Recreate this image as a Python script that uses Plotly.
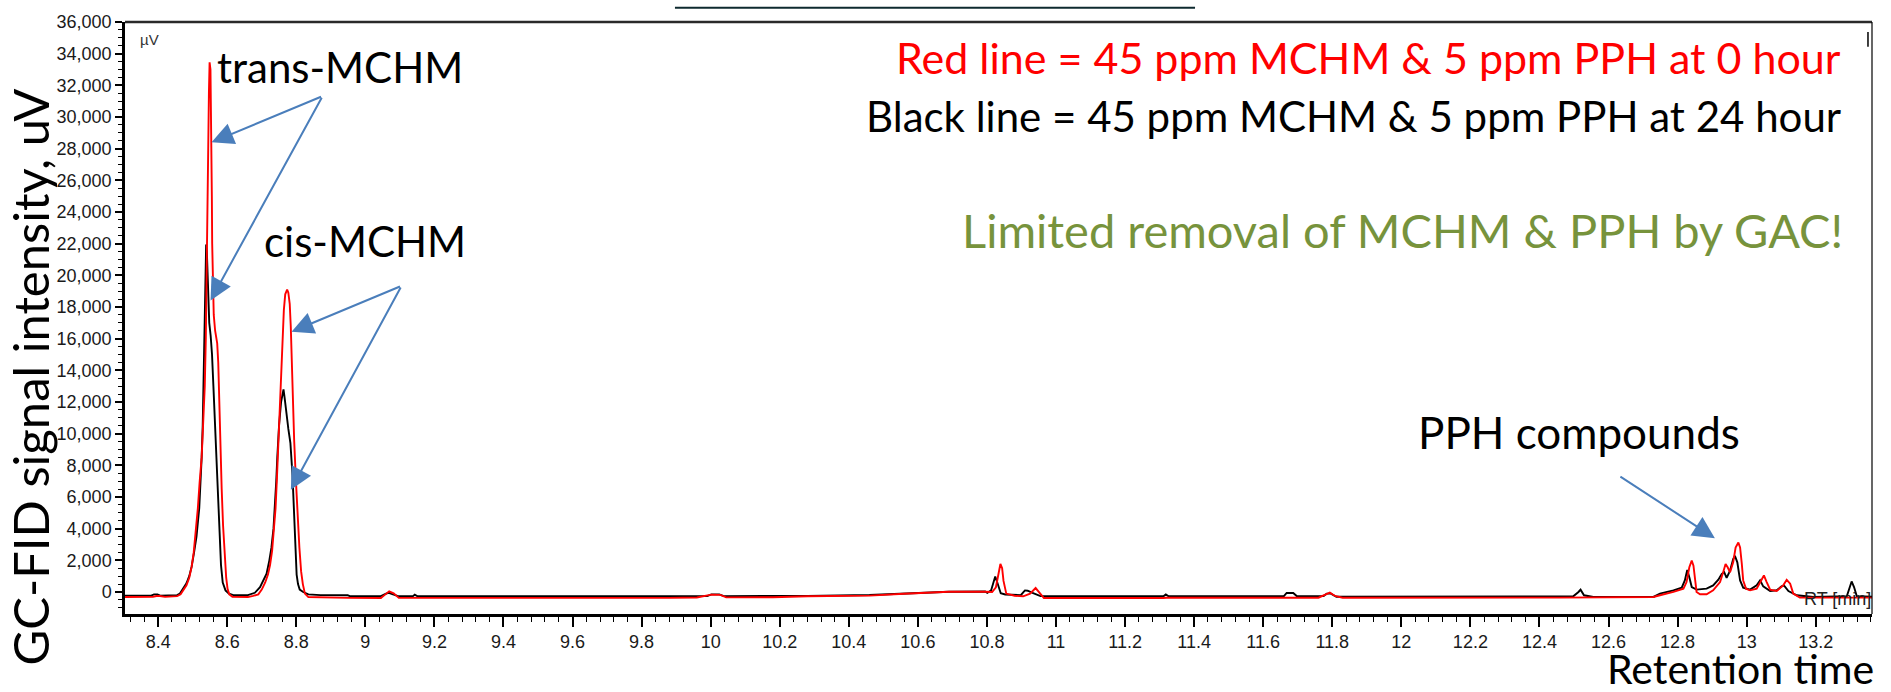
import plotly.graph_objects as go

# GC-FID chromatograms: retention time (min) vs signal (uV)
rt_0h = [8.304, 8.330, 8.360, 8.385, 8.395, 8.405, 8.420, 8.445, 8.455, 8.465, 8.475, 8.482, 8.490, 8.497,
         8.503, 8.509, 8.515, 8.520, 8.526, 8.530, 8.535, 8.538, 8.541, 8.543, 8.545, 8.547, 8.549, 8.5515,
         8.553, 8.5545, 8.5555, 8.5565, 8.558, 8.561, 8.565, 8.571, 8.574, 8.577, 8.580, 8.584, 8.588, 8.593,
         8.597, 8.601, 8.606, 8.615, 8.660, 8.675, 8.690, 8.700, 8.710, 8.718, 8.724, 8.730, 8.735, 8.740,
         8.744, 8.748, 8.752, 8.756, 8.760, 8.764, 8.768, 8.7735, 8.777, 8.781, 8.784, 8.787, 8.790, 8.794,
         8.799, 8.804, 8.809, 8.814, 8.819, 8.825, 8.835, 8.950, 9.045, 9.058, 9.069, 9.082, 9.097, 9.880,
         9.960, 10.002, 10.028, 10.045, 10.180, 10.280, 10.460, 10.560, 10.690, 10.795, 10.815, 10.826,
         10.834, 10.839, 10.844, 10.848, 10.856, 10.880, 10.905, 10.925, 10.941, 10.952, 10.965, 11.310,
         11.320, 11.760, 11.780, 11.793, 11.808, 11.830, 12.459, 12.730, 12.749, 12.788, 12.817, 12.826,
         12.834, 12.841, 12.846, 12.850, 12.855, 12.865, 12.884, 12.903, 12.923, 12.932, 12.939, 12.945,
         12.952, 12.961, 12.968, 12.976, 12.981, 12.986, 12.990, 12.998, 13.010, 13.029, 13.043, 13.050,
         13.058, 13.068, 13.087, 13.106, 13.116, 13.126, 13.135, 13.154, 13.363]
signal_0h = [-320, -320, -310, -300, -250, -250, -310, -300, -260, -150, 150, 420, 900, 1600,
             2500, 3800, 5300, 6900, 8500, 10500, 13000, 16000, 20000, 24000, 28000, 31500, 33450, 33000,
             31000, 28000, 25000, 22000, 19500, 17500, 16500, 15700, 14500, 11500, 9000, 6500, 4200, 2200,
             900, 200, -150, -300, -320, -250, -150, 150, 600, 1100, 1700, 2600, 3800, 5300,
             7200, 9500, 12000, 14300, 16000, 17800, 18800, 19100, 18900, 18200, 16800, 14500, 12000, 9500,
             7000, 4700, 2800, 1300, 500, -100, -320, -370, -380, -150, 40, -80, -370, -370,
             -350, -170, -180, -340, -330, -270, -230, -110, 20, 20, 0, 300,
             1300, 1770, 1500, 700, -100, -240, -270, -100, 250, -50, -380, -380,
             -360, -360, -150, -40, -250, -360, -354, -312, -208, 2, 210, 626,
             1561, 1979, 1667, 730, 2, -144, -144, 106, 626, 1248, 1771, 1561,
             1248, 1875, 2811, 3121, 2811, 1771, 730, 210, 106, 210, 834, 1042,
             626, 148, 64, 418, 772, 522, -104, -354, -354]

rt_24h = [8.304, 8.380, 8.388, 8.398, 8.406, 8.440, 8.455, 8.463, 8.472, 8.482, 8.490, 8.497, 8.504, 8.511,
          8.519, 8.523, 8.526, 8.529, 8.531, 8.533, 8.535, 8.537, 8.539, 8.541, 8.543, 8.545, 8.548, 8.552,
          8.556, 8.560, 8.565, 8.570, 8.574, 8.578, 8.582, 8.587, 8.595, 8.605, 8.620, 8.660, 8.665, 8.680,
          8.695, 8.705, 8.714, 8.722, 8.728, 8.734, 8.738, 8.742, 8.745, 8.750, 8.756, 8.760, 8.763, 8.766,
          8.770, 8.777, 8.783, 8.789, 8.793, 8.796, 8.799, 8.801, 8.805, 8.810, 8.820, 8.835, 8.870, 8.949,
          8.955, 9.045, 9.060, 9.068, 9.080, 9.095, 9.138, 9.143, 9.150, 9.990, 10.002, 10.025, 10.038,
          10.180, 10.280, 10.460, 10.560, 10.690, 10.795, 10.801, 10.812, 10.824, 10.830, 10.840, 10.853,
          10.898, 10.910, 10.918, 10.932, 10.955, 11.312, 11.318, 11.325, 11.660, 11.668, 11.687, 11.697,
          11.775, 11.784, 11.796, 11.812, 12.200, 12.459, 12.498, 12.513, 12.519, 12.529, 12.556, 12.730,
          12.749, 12.788, 12.812, 12.821, 12.828, 12.834, 12.841, 12.855, 12.884, 12.903, 12.918, 12.928,
          12.935, 12.942, 12.952, 12.961, 12.966, 12.973, 12.981, 12.990, 13.010, 13.029, 13.039, 13.048,
          13.068, 13.087, 13.101, 13.108, 13.121, 13.145, 13.193, 13.290, 13.299, 13.304, 13.311, 13.319,
          13.363]
signal_24h = [-230, -230, -150, -150, -230, -240, -200, -100, 200, 550, 1000, 1600, 2500, 3500,
              5300, 7000, 8500, 10500, 12500, 15000, 17500, 20000, 21950, 21500, 20000, 18500, 17000, 16200,
              15000, 13000, 10500, 8000, 5500, 3300, 1700, 600, 100, -100, -210, -200, -150, -50,
              300, 700, 1150, 2000, 2800, 4000, 5300, 7000, 8500, 10500, 12000, 12600, 12800, 12300,
              11500, 10300, 9400, 7400, 5300, 3600, 2000, 1100, 500, 150, 0, -150, -200, -210,
              -260, -260, -100, -50, -150, -260, -260, -170, -260, -260, -150, -150, -260,
              -260, -250, -190, -100, 20, 30, -60, 100, 980, 600, -80, -160,
              -200, 100, 80, -50, -260, -260, -160, -260, -260, -60, -60, -250,
              -260, -100, -100, -300, -300, -270, -270, 2, 148, -208, -312, -312,
              -104, 106, 272, 730, 1396, 937, 314, 148, 210, 418, 772, 1146,
              1248, 896, 1354, 2083, 2291, 1875, 730, 272, 148, 418, 730, 356,
              64, 106, 356, 418, 64, -208, -312, -270, 418, 668, 314, -270,
              -300]

x_range = [8.304, 13.363]
y_range = [-1390, 36000]

BODY_FONT = "Lato, 'Open Sans', sans-serif"
TICK_FONT = "'Liberation Sans', Arial, sans-serif"
ARROW_BLUE = "#4A7EBB"

fig = go.Figure()
fig.add_trace(go.Scatter(x=rt_24h, y=signal_24h, mode="lines",
                         line=dict(color="black", width=1.9), hoverinfo="skip", showlegend=False))
fig.add_trace(go.Scatter(x=rt_0h, y=signal_0h, mode="lines",
                         line=dict(color="#ff0000", width=1.9), hoverinfo="skip", showlegend=False))

fig.update_layout(
    width=1891, height=692, autosize=False,
    margin=dict(l=125, r=19, t=15, b=78, pad=0),
    paper_bgcolor="white", plot_bgcolor="white",
    showlegend=False,
)

fig.update_xaxes(
    range=x_range, showgrid=False, zeroline=False,
    showline=True, linecolor="black", linewidth=2.5,
    ticks="outside", ticklen=10, tickwidth=1.5, tickcolor="black",
    tick0=0, dtick=0.2,
    tickfont=dict(family=TICK_FONT, size=18, color="#1a1a1a"),
    minor=dict(ticks="outside", dtick=0.04, ticklen=5, tickwidth=1.2, tickcolor="black"),
)
fig.update_yaxes(
    range=y_range, showgrid=False, zeroline=False,
    showline=True, linecolor="black", linewidth=2.5,
    ticks="outside", ticklen=7, tickwidth=1.5, tickcolor="black",
    tick0=0, dtick=2000, tickformat=",d",
    tickfont=dict(family=TICK_FONT, size=18, color="#1a1a1a"),
    minor=dict(ticks="outside", dtick=500, ticklen=4, tickwidth=1.2, tickcolor="black"),
)

# frame: top and right borders, cursor mark, strip above the chart
fig.add_shape(type="line", xref="paper", yref="paper", x0=0, x1=1, y0=1, y1=1,
              line=dict(color="#2a2a2a", width=2.5), layer="above")
fig.add_shape(type="line", xref="paper", yref="paper", x0=1, x1=1, y0=0, y1=1,
              line=dict(color="black", width=1.2), layer="above")
fig.add_shape(type="line", xref="paper", yref="paper", x0=0.9977, x1=0.9977, y0=0.9583, y1=0.9833,
              line=dict(color="black", width=1.5), layer="above")
fig.add_shape(type="line", xref="paper", yref="paper", x0=0.3148, x1=0.6125, y0=1.0242, y1=1.0242,
              line=dict(color="#0e2a2f", width=2), layer="above")

texts = [
    dict(text="GC-FID signal intensity, uV", x=-0.0545, y=0.4007, xanchor="center", yanchor="middle",
         textangle=-90, font=dict(family=BODY_FONT, size=49, color="black")),
    dict(text="Retention time", x=1.0015, y=-0.0920, xanchor="right", yanchor="middle", borderpad=0,
         font=dict(family=BODY_FONT, size=41, color="black")),
    dict(text="trans-MCHM", x=0.0515, y=0.9235, xanchor="left", yanchor="middle",
         font=dict(family=BODY_FONT, size=42, color="black")),
    dict(text="cis-MCHM", x=0.0785, y=0.6300, xanchor="left", yanchor="middle",
         font=dict(family=BODY_FONT, size=42, color="black")),
    dict(text="Red line = 45 ppm MCHM &amp; 5 ppm PPH at 0 hour", x=0.9834, y=0.9395,
         xanchor="right", yanchor="middle", font=dict(family=BODY_FONT, size=43, color="#ff0000")),
    dict(text="Black line = 45 ppm MCHM &amp; 5 ppm PPH at 24 hour", x=0.9834, y=0.8410,
         xanchor="right", yanchor="middle", font=dict(family=BODY_FONT, size=42, color="black")),
    dict(text="Limited removal of MCHM &amp; PPH by GAC!", x=0.9846, y=0.6490,
         xanchor="right", yanchor="middle", font=dict(family=BODY_FONT, size=47, color="#77933C")),
    dict(text="PPH compounds", x=0.7390, y=0.3075, xanchor="left", yanchor="middle",
         font=dict(family=BODY_FONT, size=44, color="black")),
    dict(text="µV", x=0.0140, y=0.9699, xanchor="center", yanchor="middle",
         font=dict(family=TICK_FONT, size=15, color="#333333")),
    dict(text="RT [min]", x=0.980, y=0.025, xanchor="center", yanchor="middle",
         font=dict(family=TICK_FONT, size=18, color="#222222")),
]
for t in texts:
    fig.add_annotation(xref="paper", yref="paper", showarrow=False, **t)

# pointer arrows: (tail x, tail y, head x, head y) in data units
arrows = [
    (8.876, 31316, 8.5546, 28401),
    (8.876, 31316, 8.5518, 18414),
    (9.1046, 19331, 8.7863, 16441),
    (9.1046, 19331, 8.7843, 6454),
    (12.630, 7347, 12.908, 3396),
]
for tx, ty, hx, hy in arrows:
    fig.add_annotation(x=hx, y=hy, ax=tx, ay=ty, xref="x", yref="y", axref="x", ayref="y",
                       text="", showarrow=True, arrowhead=2, arrowsize=2.2, arrowwidth=2,
                       arrowcolor=ARROW_BLUE, standoff=0)

fig.write_html("out.html")
